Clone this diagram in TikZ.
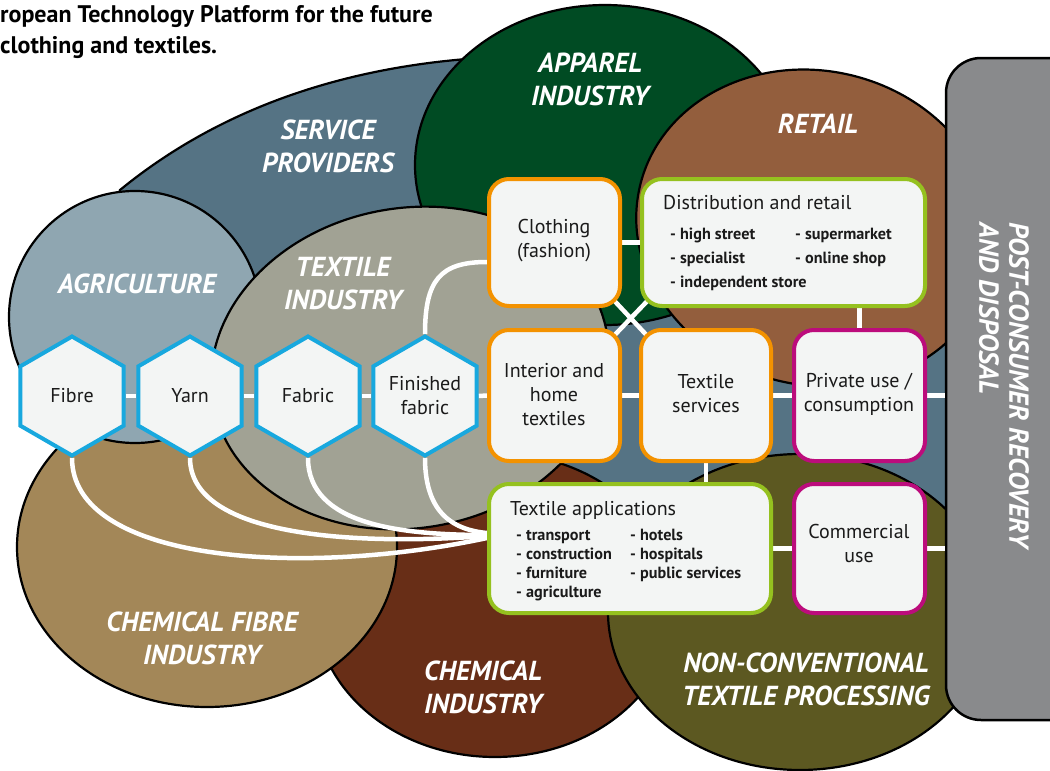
\documentclass[tikz,border=0pt]{standalone}
\usepackage{fontspec}
\setmainfont{PT Sans}
\usetikzlibrary{shapes.geometric}
\definecolor{servc}{HTML}{557384}
\definecolor{agric}{HTML}{8FA6B1}
\definecolor{textc}{HTML}{A1A294}
\definecolor{appc}{HTML}{004B23}
\definecolor{retc}{HTML}{935E3D}
\definecolor{chfc}{HTML}{A38758}
\definecolor{chic}{HTML}{682E17}
\definecolor{ncc}{HTML}{5C5821}
\definecolor{postc}{HTML}{898A8C}
\definecolor{boxc}{HTML}{F3F5F4}
\definecolor{orc}{HTML}{F39200}
\definecolor{grc}{HTML}{95C11F}
\definecolor{mgc}{HTML}{BC0C7C}
\definecolor{cyc}{HTML}{18A8DE}
\definecolor{inkc}{HTML}{1A1A1A}
\pgfdeclarelayer{shapes}
\pgfdeclarelayer{conn}
\pgfsetlayers{shapes,conn,main}
\begin{document}
\begin{tikzpicture}[x=1pt,y=-1pt,
  region/.style={draw=black,line width=2.2},
  rlabel/.style={text=white,font=\fontsize{27.5}{33}\selectfont\bfseries\itshape,align=center,inner sep=0},
  boxbase/.style={rectangle,rounded corners=20,line width=4,fill=boxc,inner sep=0},
  obox/.style={boxbase,draw=orc},
  gbox/.style={boxbase,draw=grc},
  mbox/.style={boxbase,draw=mgc},
  hexa/.style={regular polygon,regular polygon sides=6,shape border rotate=30,minimum size=119,inner sep=0,draw=cyc,line width=4,fill=boxc},
  btext/.style={text=inkc,font=\fontsize{20}{24}\selectfont,align=center,inner sep=0},
  bullet/.style={text=inkc,font=\fontsize{16.2}{19}\selectfont\bfseries,align=left,inner sep=0,anchor=base west},
  conn/.style={draw=white,line width=4.5},
]
\useasboundingbox (0,0) rectangle (1050,771);
\begin{pgfonlayer}{shapes}
\begin{scope}
\clip (0,0) rectangle (1050,771);
\fill[servc,region] (120,190) .. controls (230,100) and (360,66) .. (480,58)
  .. controls (650,50) and (780,150) .. (900,250)
  .. controls (960,300) and (965,380) .. (965,450)
  .. controls (965,540) and (900,570) .. (700,575) -- (320,570)
  .. controls (150,520) and (90,300) .. (120,190) -- cycle;
\filldraw[fill=appc,region] (605,165) ellipse [x radius=190,y radius=160];
\filldraw[fill=retc,region,rotate around={-14:(815,228)}] (815,228) ellipse [x radius=180,y radius=157];
\filldraw[fill=chic,region] (495,605) ellipse [x radius=180,y radius=152];
\filldraw[fill=chfc,region] (207,547) ellipse [x radius=190,y radius=160];
\filldraw[fill=agric,region] (135,317) circle [radius=126];
\filldraw[fill=textc,region,rotate around={10:(410,368)}] (410,368) ellipse [x radius=200,y radius=160];
\filldraw[fill=ncc,region] (800,612) ellipse [x radius=192,y radius=158];
\node[rectangle,rounded corners=35,fill=postc,draw=black,line width=2.5,minimum width=140,minimum height=662,inner sep=0] (post) at (1016,389) {};
\end{scope}
\end{pgfonlayer}
% title
\node[anchor=base west,inner sep=0,font=\fontsize{24}{28}\selectfont\bfseries] (title1) at (0,22) {ropean Technology Platform for the future};
\node[anchor=base west,inner sep=0,font=\fontsize{24}{28}\selectfont\bfseries] (title2) at (0,53) {clothing and textiles.};
% region labels
\node[rlabel] (lserv) at (328,146) {SERVICE\\PROVIDERS};
\node[rlabel] (lapp) at (590,79) {APPAREL\\INDUSTRY};
\node[rlabel] (lret) at (818,124) {RETAIL};
\node[rlabel] (lagr) at (137,284) {AGRICULTURE};
\node[rlabel] (ltex) at (343,284) {TEXTILE\\INDUSTRY};
\node[rlabel] (lchf) at (202,638) {CHEMICAL FIBRE\\INDUSTRY};
\node[rlabel] (lchi) at (483,687) {CHEMICAL\\INDUSTRY};
\node[rlabel] (lnc) at (806,679) {NON-CONVENTIONAL\\TEXTILE PROCESSING};
\node[rlabel,rotate=-90,anchor=west] (lpost1) at (1019,222) {POST-CONSUMER RECOVERY};
\node[rlabel,rotate=-90,anchor=west] (lpost2) at (989,222) {AND DISPOSAL};
% boxes
\node[obox,minimum width=131,minimum height=127] (cloth) at (554.5,242.5) {};
\node[gbox,minimum width=283,minimum height=127] (dist) at (783.5,242.5) {};
\node[obox,minimum width=131,minimum height=131] (inter) at (554.5,395.5) {};
\node[obox,minimum width=130,minimum height=131] (tserv) at (706,395.5) {};
\node[mbox,minimum width=131,minimum height=131] (priv) at (859.5,395.5) {};
\node[gbox,minimum width=282,minimum height=129] (tapp) at (630,548.5) {};
\node[mbox,minimum width=131,minimum height=129] (comm) at (859.5,548.5) {};
\node[btext] (tcloth) at (554,241) {Clothing\\(fashion)};
\node[btext] (tinter) at (554,395) {Interior and\\home\\textiles};
\node[btext] (ttserv) at (706,394) {Textile\\services};
\node[btext] (tpriv) at (859,394) {Private use /\\consumption};
\node[btext] (tcomm) at (859,543) {Commercial\\use};
\node[btext,anchor=base west] (tdist) at (663,209) {Distribution and retail};
\node[bullet] (d1) at (670,239) {- high street};
\node[bullet] (d2) at (795,239) {- supermarket};
\node[bullet] (d3) at (670,263) {- specialist};
\node[bullet] (d4) at (795,263) {- online shop};
\node[bullet] (d5) at (670,287) {- independent store};
\node[btext,anchor=base west] (tapph) at (510,515) {Textile applications};
\node[bullet] (a1) at (516,540) {- transport};
\node[bullet] (a2) at (516,559) {- construction};
\node[bullet] (a3) at (516,578) {- furniture};
\node[bullet] (a4) at (516,597) {- agriculture};
\node[bullet] (a5) at (630,540) {- hotels};
\node[bullet] (a6) at (630,559) {- hospitals};
\node[bullet] (a7) at (630,578) {- public services};
% hexagons
\node[hexa] (fibre) at (72,396) {};
\node[hexa] (yarn) at (190,396) {};
\node[hexa] (fabric) at (308,396) {};
\node[hexa] (finished) at (425,396) {};
\node[btext] (tfibre) at (fibre) {Fibre};
\node[btext] (tyarn) at (yarn) {Yarn};
\node[btext] (tfabric) at (fabric) {Fabric};
\node[btext] (tfinished) at (finished) {Finished\\fabric};
% connectors
\begin{pgfonlayer}{conn}
\draw[conn] (fibre.east) -- (yarn.west);
\draw[conn] (yarn.east) -- (fabric.west);
\draw[conn] (fabric.east) -- (finished.west);
\draw[conn] (finished.east) -- (inter.west);
\draw[conn] (inter.east) -- (tserv.west);
\draw[conn] (tserv.east) -- (priv.west);
\draw[conn] (priv.east) -- (priv.east -| post.west);
\draw[conn] (cloth.east) -- (dist.west);
\draw[conn] (priv.north) -- (priv.north |- dist.south);
\draw[conn] (tserv.south) -- (tserv.south |- tapp.north);
\draw[conn] (comm.west -| tapp.east) -- (comm.west);
\draw[conn] (comm.east) -- (comm.east -| post.west);
\draw[conn] ([shift={(-14,-14)}]cloth.south east) -- ([shift={(14,14)}]tserv.north west);
\draw[conn] ([shift={(14,-14)}]dist.south west) -- ([shift={(-14,14)}]inter.north east);
\draw[conn] (finished.north) .. controls +(0,-54) and +(-47,0) .. ([yshift=-19.5pt]cloth.west);
\draw[conn] (fibre.south) .. controls +(0,104) and +(-187,40) .. ([yshift=10.5pt]tapp.west);
\draw[conn] (yarn.south) .. controls +(0,78) and +(-137,10) .. ([yshift=12.5pt]tapp.west);
\draw[conn] (fabric.south) .. controls +(0,67) and +(-87,0) .. ([yshift=13.5pt]tapp.west);
\draw[conn] (finished.south) .. controls +(0,57) and +(-32,-3) .. ([yshift=15.5pt]tapp.west);
\end{pgfonlayer}
\end{tikzpicture}
\end{document}
